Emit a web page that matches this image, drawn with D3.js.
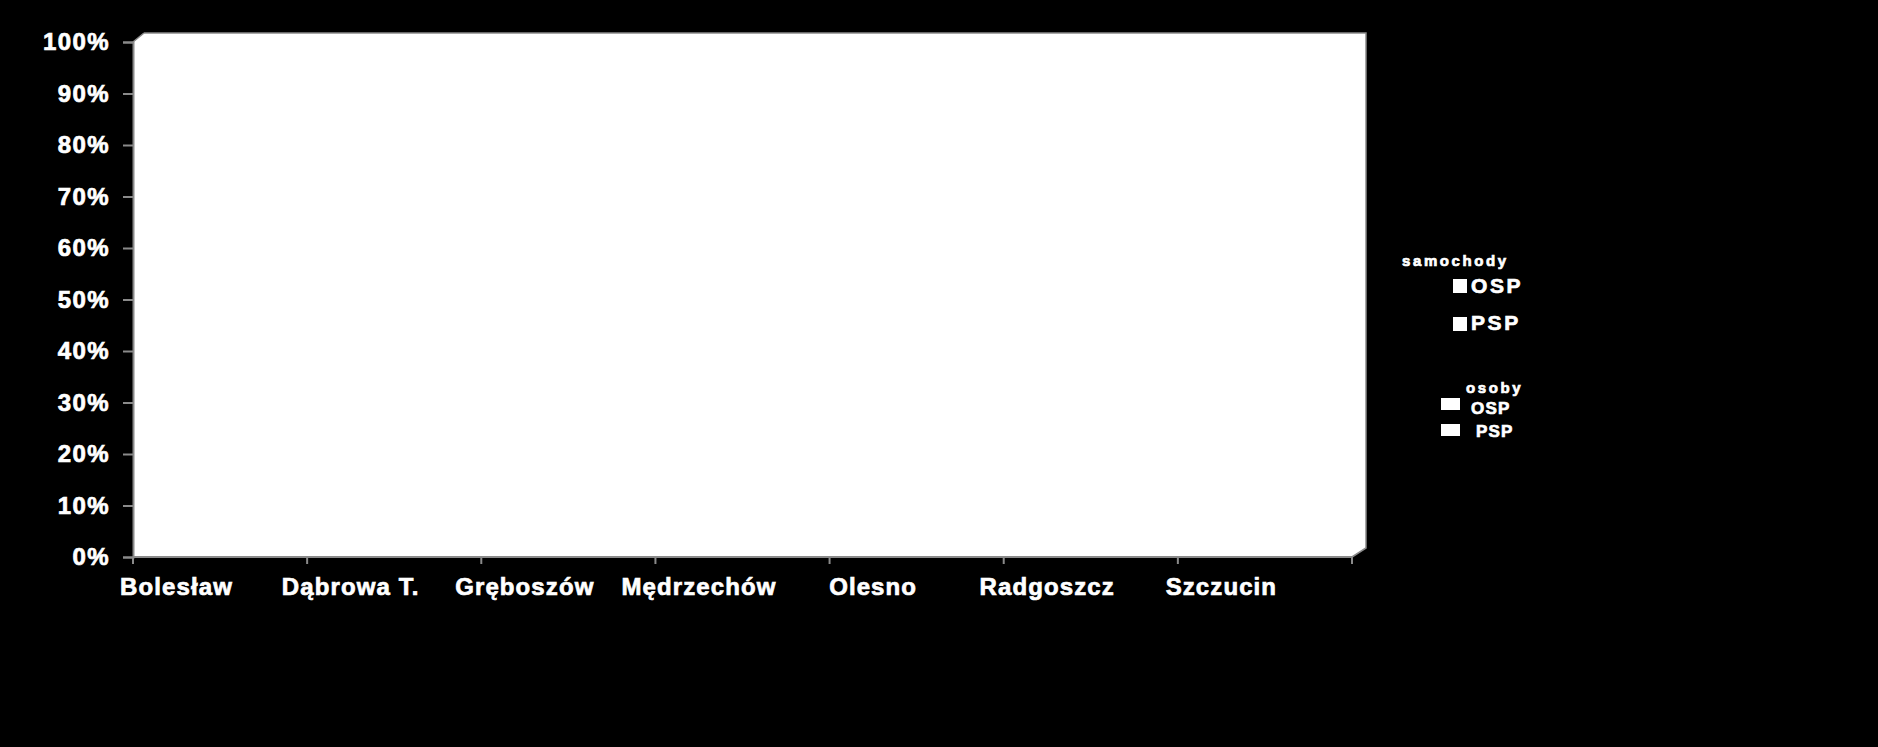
<!DOCTYPE html>
<html>
<head>
<meta charset="utf-8">
<script src="https://cdn.jsdelivr.net/npm/d3@7"></script>
<style>
  html, body { margin: 0; padding: 0; background: #000; }
  svg { display: block; }
  text { font-family: "Liberation Sans", Arial, sans-serif; font-weight: bold; fill: #fff; stroke: #fff; stroke-width: 0.7px; }
</style>
</head>
<body>
<div id="chart"></div>
<script>
// 100% stacked column chart (3D look), black slide background
const categories = ["Bolesław", "Dąbrowa T.", "Gręboszów", "Mędrzechów", "Olesno", "Radgoszcz", "Szczucin"];
const yTicks = [0, 0.1, 0.2, 0.3, 0.4, 0.5, 0.6, 0.7, 0.8, 0.9, 1];
const legendCars = ["OSP", "PSP"];    // samochody
const legendPeople = ["OSP", "PSP"];  // osoby
// no bar is visible in the picture: the whole plot area shows white

const width = 1878, height = 747;
const plotL = 133, plotR = 1352, plotT = 42, plotB = 557;
const depthX = 11, depthY = 9;
const axisGrey = "#8a8a8a";

const svg = d3.select("#chart").append("svg")
  .attr("width", width)
  .attr("height", height);

svg.append("rect").attr("width", width).attr("height", height).attr("fill", "#000");

const x = d3.scaleBand().domain(categories).range([plotL, plotR]).paddingInner(0).paddingOuter(0);
const y = d3.scaleLinear().domain([0, 1]).range([plotB, plotT]);

// plot area (walls seen with a bit of depth)
const wall = [
  [plotL, plotT], [plotL + depthX, plotT - depthY], [plotR + depthX + 3, plotT - depthY],
  [plotR + depthX + 3, plotB - depthY], [plotR, plotB], [plotL, plotB]
];
svg.append("path")
  .attr("d", d3.line()(wall) + "Z")
  .attr("fill", "#fff");

// wall edges
svg.append("path")
  .attr("d", d3.line()([[plotL + depthX, plotT - depthY], [plotR + depthX + 3, plotT - depthY], [plotR + depthX + 3, plotB - depthY], [plotR, plotB]]))
  .attr("fill", "none")
  .attr("stroke", axisGrey)
  .attr("stroke-width", 1.5);
svg.append("path")
  .attr("d", d3.line()([[plotL, plotT], [plotL + depthX, plotT - depthY]]))
  .attr("fill", "none")
  .attr("stroke", axisGrey)
  .attr("stroke-width", 1.5);

// y axis
const yAxis = d3.axisLeft(y).tickValues(yTicks).tickFormat(d3.format(".0%")).tickSize(10).tickPadding(13);
const gy = svg.append("g").attr("transform", `translate(${plotL},0)`).call(yAxis);
gy.select(".domain").attr("stroke", axisGrey).attr("stroke-width", 2);
gy.selectAll(".tick line").attr("stroke", axisGrey).attr("stroke-width", 2);
gy.selectAll(".tick text")
  .attr("fill", "#fff")
  .style("font-family", "'Liberation Sans', Arial, sans-serif")
  .style("font-weight", "bold")
  .style("font-size", "24px")
  .style("letter-spacing", "1.4px");

// x axis: ticks on band boundaries
const bounds = categories.map(c => x(c)).concat([plotR]);
svg.append("line")
  .attr("x1", plotL).attr("x2", plotR)
  .attr("y1", plotB).attr("y2", plotB)
  .attr("stroke", axisGrey).attr("stroke-width", 2);
svg.append("g").selectAll("line")
  .data(bounds)
  .join("line")
  .attr("x1", d => d).attr("x2", d => d)
  .attr("y1", plotB).attr("y2", plotB + 7)
  .attr("stroke", axisGrey).attr("stroke-width", 2);

svg.append("g").selectAll("text")
  .data(categories)
  .join("text")
  .attr("x", d => x(d) + x.bandwidth() * 0.25)
  .attr("y", 595)
  .attr("text-anchor", "middle")
  .style("font-size", "24px")
  .style("letter-spacing", "1.1px")
  .text(d => d);

// legend
const lg = svg.append("g");
lg.append("text").attr("x", 1402).attr("y", 266)
  .style("font-size", "15px").style("letter-spacing", "2.6px").text("samochody");
lg.selectAll("rect.car")
  .data(legendCars)
  .join("rect")
  .attr("class", "car")
  .attr("x", 1453).attr("y", (d, i) => 279 + i * 38)
  .attr("width", 14).attr("height", 14)
  .attr("fill", "#fff");
lg.selectAll("text.car")
  .data(legendCars)
  .join("text")
  .attr("class", "car")
  .attr("x", 1471).attr("y", (d, i) => 293 + i * 37)
  .style("font-size", "21px").style("letter-spacing", "2.6px")
  .text(d => d);

lg.append("text").attr("x", 1466).attr("y", 393)
  .style("font-size", "15px").style("letter-spacing", "2.6px").text("osoby");
lg.selectAll("rect.per")
  .data(legendPeople)
  .join("rect")
  .attr("class", "per")
  .attr("x", 1441).attr("y", (d, i) => 398 + i * 26)
  .attr("width", 19).attr("height", 12)
  .attr("fill", "#fff");
lg.selectAll("text.per")
  .data(legendPeople)
  .join("text")
  .attr("class", "per")
  .attr("x", (d, i) => 1471 + i * 5).attr("y", (d, i) => 414 + i * 23)
  .style("font-size", "17px").style("letter-spacing", "1.2px")
  .text(d => d);
</script>
</body>
</html>
